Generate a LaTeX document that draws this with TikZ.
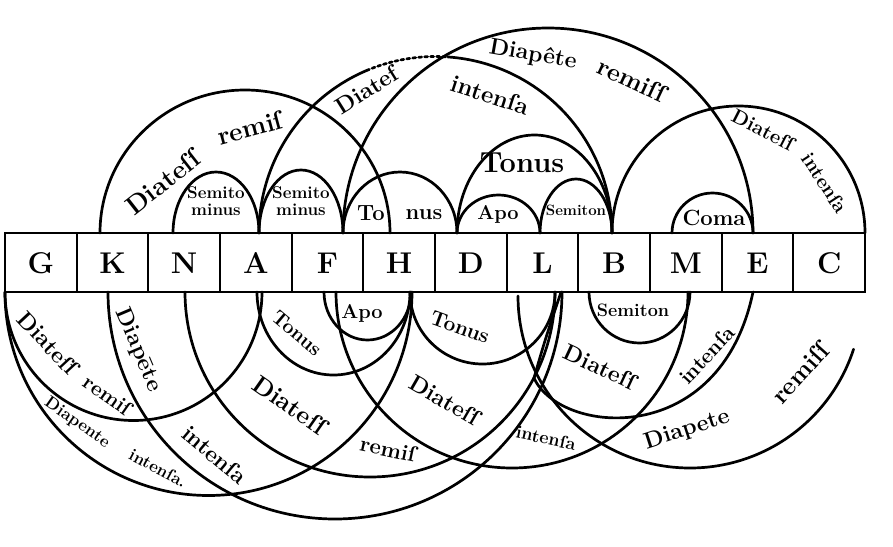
\documentclass[tikz,border=0pt]{standalone}
\usepackage{tikz}
\usetikzlibrary{positioning,calc}

\tikzset{
  ring/.style={line width=2.7pt,line cap=round},
  lab/.style={font=\fontsize{#1}{#1}\selectfont\bfseries,inner sep=0pt},
  cell/.style={font=\fontsize{30}{30}\selectfont\bfseries,inner sep=0pt}
}

\begin{document}
\begin{tikzpicture}[x=1pt,y=-1pt]
  \useasboundingbox (0,0) rectangle (893,546);
  % the row of letters
  \draw[ring] (5,233) rectangle (865,292);
  \foreach \i in {1,...,11}
    \draw[line width=2.2pt] ({5+71.67*\i},233) -- ({5+71.67*\i},292);
  \foreach \l [count=\i from 0] in {G,K,N,A,F,H,D,L,B,M,E,C}
    \node[cell] (c\l) at ({5+71.67*(\i+0.5)},263) {\l};

  % arcs above the row
  \draw[ring] (173,233) arc[start angle=180,end angle=360,x radius=43,y radius=61];
  \draw[ring] (259,233) arc[start angle=180,end angle=360,x radius=42,y radius=63];
  \draw[ring] (343,233) arc[start angle=180,end angle=360,x radius=57,y radius=61];
  \draw[ring] (457,233) arc[start angle=180,end angle=360,x radius=41.5,y radius=38];
  \draw[ring] (540,233) arc[start angle=180,end angle=360,x radius=36,y radius=54];
  \draw[ring] (457,233) arc[start angle=180,end angle=360,x radius=77.5,y radius=98];
  \draw[ring] (672,233) arc[start angle=180,end angle=360,x radius=40.5,y radius=40];
  \draw[ring] (100,233) arc[start angle=180,end angle=360,x radius=145,y radius=143];
  \draw[ring] (259,233) arc[start angle=180,end angle=247,radius=176.5];
  \draw[ring,dashed] (435.5,233) ++(247:176.5) arc[start angle=247,end angle=274,radius=176.5];
  \draw[ring] (435.5,233) ++(274:176.5) arc[start angle=274,end angle=360,radius=176.5];
  \draw[ring] (343,233) arc[start angle=180,end angle=360,radius=205];
  \draw[ring] (612,233) arc[start angle=180,end angle=360,x radius=126.5,y radius=127];

  % arcs below the row
  \draw[ring] (257,292) arc[start angle=180,end angle=0,x radius=76.5,y radius=83];
  \draw[ring] (324,292) arc[start angle=180,end angle=0,x radius=43.5,y radius=48];
  \draw[ring] (410,292) arc[start angle=180,end angle=0,x radius=72.5,y radius=72];
  \draw[ring] (589,292) arc[start angle=180,end angle=0,x radius=50.5,y radius=51];
  \draw[ring] (5,292) arc[start angle=180,end angle=0,radius=128.5];
  \draw[ring] (5,292) arc[start angle=180,end angle=0,radius=203.5];
  \draw[ring] (108,292) arc[start angle=180,end angle=0,radius=227];
  \draw[ring] (185,292) arc[start angle=180,end angle=0,radius=185];
  \draw[ring] (336,292) arc[start angle=180,end angle=0,radius=176];
  \draw[ring] (561,292) .. controls (545,340) .. (534,378)
    .. controls (560,435) and (720,450) .. (753,292);
  \draw[ring] (518,296) arc[start angle=180,end angle=18,radius=172];

  % names above
  \node[lab=26,rotate=38] (dtA) at (163,182) {Diateſſ};
  \node[lab=26,rotate=15] (rmA) at (250,128) {remiſ};
  \node[lab=17,align=center] (smA) at (216,201) {Semito\\minus};
  \node[lab=17,align=center] (smB) at (301,201) {Semito\\minus};
  \node[lab=22] (toA) at (371,213) {To};
  \node[lab=22] (nuA) at (424,215) {nus};
  \node[lab=20] (apA) at (498,214) {Apo};
  \node[lab=15] (seA) at (576,210) {Semiton};
  \node[lab=29] (tnA) at (522,163) {Tonus};
  \node[lab=22] (coA) at (714,218) {Coma};
  \node[lab=23,rotate=32] (dtB) at (367,90) {Diatef};
  \node[lab=24,rotate=-18] (inB) at (490,95) {intenſa};
  \node[lab=23,rotate=-10] (dpA) at (533,55) {Diapête};
  \node[lab=25,rotate=-25] (rmB) at (632,80) {remiſſ};
  \node[lab=20,rotate=-27] (dtC) at (763,130) {Diateſſ};
  \node[lab=20,rotate=-57] (inC) at (825,183) {intenſa};

  % names below
  \node[lab=23,rotate=-47] (dtD) at (48,343) {Diateſſ};
  \node[lab=21,rotate=-35] (rmD) at (108,395) {remiſ};
  \node[lab=23,rotate=-67] (dpB) at (138,350) {Diapēte};
  \node[lab=23,rotate=-40] (inD) at (215,455) {intenſa};
  \node[lab=17,rotate=-35] (dpC) at (77,423) {Diapente};
  \node[lab=17,rotate=-28] (inE) at (158,468) {intenſa.};
  \node[lab=20,rotate=-40] (toB) at (297,333) {Tonus};
  \node[lab=20] (apB) at (362,313) {Apo};
  \node[lab=21,rotate=-20] (toC) at (460,327) {Tonus};
  \node[lab=25,rotate=-35] (dtE) at (290,405) {Diateſſ};
  \node[lab=22,rotate=-12] (rmE) at (388,449) {remiſ};
  \node[lab=23,rotate=-30] (dtF) at (445,400) {Diateſſ};
  \node[lab=18,rotate=-12] (inF) at (546,438) {intenſa};
  \node[lab=18] (seB) at (633,310) {Semiton};
  \node[lab=23,rotate=-25] (dtG) at (600,367) {Diateſſ};
  \node[lab=21,rotate=47] (inG) at (707,355) {intenſa};
  \node[lab=23,rotate=18] (dpD) at (687,430) {Diapete};
  \node[lab=25,rotate=48] (rmF) at (800,373) {remiſſ};
\end{tikzpicture}
\end{document}
